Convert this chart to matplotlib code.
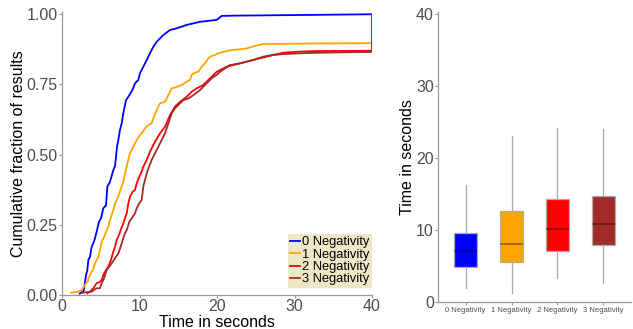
import matplotlib
matplotlib.use("Agg")
import matplotlib.pyplot as plt
from matplotlib.lines import Line2D

plt.rcParams['font.family'] = ['Liberation Sans', 'DejaVu Sans']

# ---------------- data ----------------
series_labels = ["0 Negativity", "1 Negativity", "2 Negativity", "3 Negativity"]
series_colors = ["#0000FF", "#FFA500", "#FF0000", "#A52A2A"]

blue_t = [2.3, 2.8, 3.1, 3.27, 3.4, 3.61, 3.83, 4.13, 4.47, 4.77, 5.03, 5.33, 5.68, 5.85, 6.19,
          6.62, 6.84, 7.0, 7.1, 7.27, 7.48, 7.7, 7.91, 8.26, 8.56, 9.12, 9.42, 9.85, 10.06, 10.49,
          10.93, 11.35, 11.78, 12.22, 12.65, 13.07, 13.94, 14.8, 16.09, 17.81, 19.96, 20.6, 22.1, 33.3, 40.0]
blue_y = [0.005, 0.015, 0.071, 0.089, 0.125, 0.136, 0.172, 0.19, 0.225, 0.261, 0.273, 0.309, 0.32, 0.386, 0.403,
          0.445, 0.46, 0.5, 0.528, 0.552, 0.588, 0.611, 0.647, 0.694, 0.706, 0.732, 0.754, 0.766, 0.79, 0.813,
          0.837, 0.861, 0.884, 0.902, 0.914, 0.926, 0.944, 0.95, 0.962, 0.973, 0.980, 0.994, 0.995, 0.998, 1.0]

orange_t = [1.16, 2.11, 2.54, 2.97, 3.27, 3.61, 3.96, 4.26, 4.69, 4.9, 5.12, 5.46, 5.76, 5.98, 6.19,
            6.62, 6.84, 7.06, 7.4, 7.7, 7.91, 8.2, 8.45, 8.77, 9.2, 9.64, 10.06, 10.28, 10.71, 11.14,
            11.57, 11.78, 12.22, 12.65, 13.29, 13.72, 14.15, 14.8, 15.44, 16.09, 16.52, 16.73, 17.16, 17.59, 18.03,
            18.45, 18.88, 19.1, 19.74, 20.17, 20.8, 21.46, 22.1, 23.8, 24.48, 25.33, 25.97, 33.3, 40.0, 40.0]
orange_y = [0.008, 0.012, 0.018, 0.036, 0.047, 0.071, 0.089, 0.113, 0.136, 0.16, 0.19, 0.208, 0.231, 0.243, 0.267,
            0.303, 0.326, 0.338, 0.362, 0.386, 0.403, 0.44, 0.47, 0.505, 0.528, 0.552, 0.57, 0.576, 0.594, 0.605,
            0.611, 0.629, 0.659, 0.683, 0.688, 0.712, 0.736, 0.741, 0.748, 0.76, 0.766, 0.784, 0.792, 0.795, 0.813,
            0.825, 0.843, 0.849, 0.855, 0.861, 0.866, 0.87, 0.873, 0.878, 0.884, 0.89, 0.894, 0.896, 0.897, 1.0]

red_t = [3.27, 3.61, 4.04, 4.47, 4.9, 5.12, 5.33, 5.68, 5.98, 6.32, 6.62, 6.84, 7.06, 7.27, 7.57,
         7.91, 8.13, 8.35, 8.56, 8.77, 9.12, 9.42, 9.64, 9.97, 10.28, 10.49, 10.93, 11.35, 12.0, 12.65,
         13.29, 13.94, 14.58, 15.23, 16.09, 16.73, 17.38, 17.81, 18.23, 18.88, 19.31, 19.96, 21.25, 22.1, 23.8,
         25.5, 26.4, 27.26, 28.55, 30.7, 33.3, 40.0, 40.0]
red_y = [0.006, 0.012, 0.024, 0.042, 0.047, 0.053, 0.071, 0.089, 0.101, 0.125, 0.154, 0.172, 0.196, 0.208, 0.231,
         0.255, 0.273, 0.291, 0.327, 0.35, 0.368, 0.374, 0.398, 0.421, 0.439, 0.457, 0.481, 0.51, 0.546, 0.576,
         0.599, 0.641, 0.671, 0.688, 0.706, 0.724, 0.736, 0.742, 0.748, 0.766, 0.777, 0.795, 0.813, 0.819, 0.831,
         0.843, 0.849, 0.855, 0.863, 0.867, 0.869, 0.87, 1.0]

brown_t = [2.54, 3.83, 4.47, 4.9, 5.12, 5.42, 5.76, 6.11, 6.41, 6.84, 7.27, 7.57, 7.83, 8.13, 8.35,
           8.69, 8.99, 9.42, 9.64, 9.97, 10.28, 10.49, 10.71, 10.93, 11.2, 11.57, 12.0, 12.43, 12.86, 13.29,
           13.72, 14.15, 14.58, 15.23, 15.66, 16.3, 16.95, 17.81, 18.45, 18.88, 19.31, 19.96, 20.39, 21.68, 22.97,
           24.69, 25.98, 27.26, 28.55, 30.7, 33.3, 40.0, 40.0]
brown_y = [0.008, 0.012, 0.024, 0.024, 0.042, 0.059, 0.089, 0.101, 0.113, 0.131, 0.148, 0.172, 0.196, 0.22, 0.231,
           0.261, 0.273, 0.291, 0.309, 0.327, 0.338, 0.386, 0.41, 0.433, 0.455, 0.481, 0.505, 0.528, 0.552, 0.576,
           0.611, 0.647, 0.665, 0.683, 0.694, 0.7, 0.712, 0.73, 0.748, 0.76, 0.772, 0.784, 0.795, 0.819, 0.825,
           0.837, 0.849, 0.855, 0.858, 0.861, 0.863, 0.866, 1.0]

box_labels = ["0 Negativity", "1 Negativity", "2 Negativity", "3 Negativity"]
box_whislo = [2.0, 1.2, 3.3, 2.6]
box_q1 = [4.9, 5.5, 7.1, 7.9]
box_med = [7.1, 8.1, 10.2, 10.8]
box_q3 = [9.6, 12.6, 14.3, 14.7]
box_whishi = [16.3, 23.1, 24.2, 24.0]

# ---------------- figure ----------------
W, H = 633, 329
fig = plt.figure(figsize=(W / 100, H / 100), dpi=100)

tick_color = "#4D4D4D"
axis_color = "#999999"

# Left: cumulative curves
ax1 = fig.add_axes([62 / W, 1 - 295 / H, (372 - 62) / W, (295 - 12) / H])
curves = [(blue_t, blue_y), (orange_t, orange_y), (red_t, red_y), (brown_t, brown_y)]
for (t, y), c in zip(curves, series_colors):
    ax1.plot(t, y, color=c, lw=1.3, solid_joinstyle='round')
ax1.set_xlim(0, 40)
ax1.set_ylim(0, 1.008)
ax1.set_xticks([0, 10, 20, 30, 40])
ax1.set_yticks([0, 0.25, 0.5, 0.75, 1.0])
ax1.set_yticklabels(["0.00", "0.25", "0.50", "0.75", "1.00"])
ax1.set_xlabel("Time in seconds", fontsize=11.5, labelpad=0.5)
ax1.set_ylabel("Cumulative fraction of results", fontsize=11.5, labelpad=0.5)

handles = [Line2D([0], [0], color=c, lw=1.3) for c in series_colors]
leg = ax1.legend(handles, series_labels, loc='lower right', bbox_to_anchor=(1.0, 0.025),
                 borderaxespad=0, fontsize=9.3, handlelength=0.75, handletextpad=0.15,
                 labelspacing=0.02, borderpad=0.2, frameon=True, fancybox=False)
leg.get_frame().set_facecolor("#EDE7C6")
leg.get_frame().set_edgecolor("none")
leg.get_frame().set_alpha(1)

# Right: boxplot
ax2 = fig.add_axes([438 / W, 1 - 302 / H, (631 - 438) / W, (302 - 12) / H])
stats = []
for i in range(len(box_labels)):
    stats.append(dict(label=box_labels[i], whislo=box_whislo[i], q1=box_q1[i], med=box_med[i],
                      q3=box_q3[i], whishi=box_whishi[i], fliers=[]))
positions = list(range(1, len(box_labels) + 1))
bp = ax2.bxp(stats, positions=positions, widths=0.5, patch_artist=True, showcaps=False,
             showfliers=False,
             whiskerprops=dict(color="#AAAAAA", lw=0.9),
             boxprops=dict(edgecolor="#AAAAAA", lw=0.9),
             medianprops=dict(lw=1.1))
for patch, med, c in zip(bp['boxes'], bp['medians'], series_colors):
    patch.set_facecolor(c)
    med.set_color("black")
    med.set_alpha(0.45)
ax2.set_xlim(0.4, 4.6)
ax2.set_ylim(0, 40.3)
ax2.set_yticks([0, 10, 20, 30, 40])
ax2.set_xticks(positions)
ax2.set_xticklabels(box_labels, fontsize=5.5)
ax2.set_ylabel("Time in seconds", fontsize=11.5, labelpad=1)

for ax in (ax1, ax2):
    for s in ("top", "right"):
        ax.spines[s].set_visible(False)
    for s in ("left", "bottom"):
        ax.spines[s].set_color(axis_color)
        ax.spines[s].set_linewidth(0.9)
    ax.tick_params(axis='both', colors=axis_color, length=2, width=0.8, pad=1,
                   labelcolor=tick_color)
ax1.tick_params(labelsize=11.5)
ax2.tick_params(axis='y', labelsize=11.5)
ax2.tick_params(axis='x', pad=1.5)

fig.savefig("out.png", dpi=100)
